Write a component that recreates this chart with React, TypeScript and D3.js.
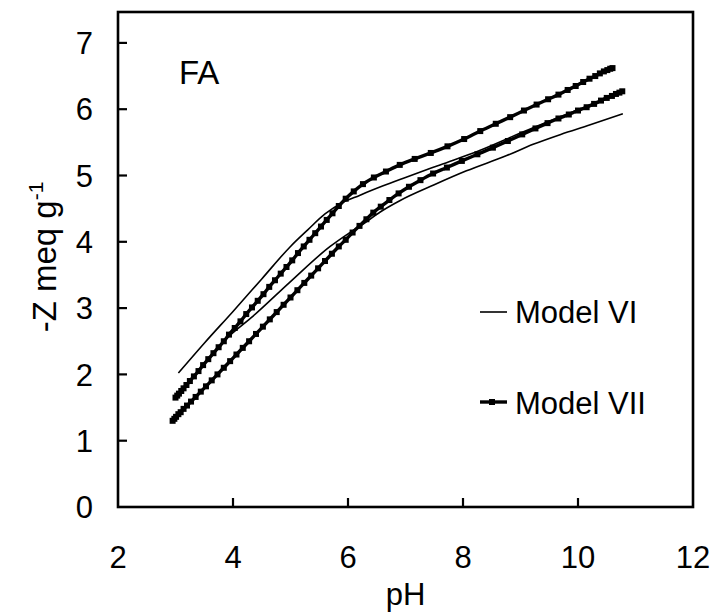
import React from 'react';
import * as d3 from 'd3';

// Model VII (thick line with markers), upper curve
const vii1PH = [3.0, 3.03, 3.06, 3.1, 3.14, 3.19, 3.25, 3.32, 3.4, 3.48, 3.57, 3.66, 3.75, 3.84, 3.93, 4.03, 4.13, 4.23, 4.33, 4.43, 4.53, 4.63, 4.73, 4.83, 4.93, 5.03, 5.13, 5.23, 5.33, 5.43, 5.53, 5.63, 5.73, 5.84, 5.96, 6.1, 6.26, 6.45, 6.66, 6.9, 7.16, 7.44, 7.73, 8.02, 8.3, 8.57, 8.82, 9.06, 9.28, 9.48, 9.66, 9.82, 9.96, 10.09, 10.2, 10.3, 10.38, 10.45, 10.51, 10.56, 10.6];
const vii1Z = [1.65, 1.68, 1.71, 1.75, 1.79, 1.84, 1.9, 1.97, 2.05, 2.14, 2.23, 2.32, 2.41, 2.5, 2.6, 2.7, 2.8, 2.91, 3.01, 3.11, 3.21, 3.32, 3.42, 3.52, 3.62, 3.72, 3.83, 3.93, 4.03, 4.13, 4.23, 4.33, 4.43, 4.54, 4.65, 4.76, 4.87, 4.97, 5.06, 5.16, 5.25, 5.34, 5.44, 5.55, 5.67, 5.78, 5.88, 5.98, 6.07, 6.15, 6.22, 6.29, 6.35, 6.41, 6.46, 6.5, 6.54, 6.57, 6.59, 6.61, 6.62];

// Model VII, lower curve
const vii2PH = [2.95, 2.98, 3.01, 3.05, 3.09, 3.14, 3.2, 3.27, 3.35, 3.44, 3.53, 3.63, 3.73, 3.84, 3.95, 4.06, 4.17, 4.28, 4.4, 4.52, 4.64, 4.76, 4.88, 5.0, 5.12, 5.24, 5.36, 5.48, 5.6, 5.72, 5.84, 5.96, 6.08, 6.2, 6.32, 6.44, 6.57, 6.72, 6.88, 7.06, 7.26, 7.48, 7.72, 7.98, 8.25, 8.52, 8.78, 9.03, 9.26, 9.47, 9.66, 9.84, 10.0, 10.15, 10.28, 10.4, 10.5, 10.59, 10.66, 10.72, 10.77];
const vii2Z = [1.3, 1.33, 1.36, 1.4, 1.43, 1.48, 1.53, 1.59, 1.66, 1.74, 1.82, 1.91, 2.0, 2.1, 2.2, 2.3, 2.4, 2.5, 2.61, 2.72, 2.83, 2.94, 3.05, 3.16, 3.27, 3.38, 3.49, 3.6, 3.71, 3.82, 3.93, 4.03, 4.14, 4.24, 4.34, 4.44, 4.53, 4.63, 4.73, 4.83, 4.93, 5.03, 5.12, 5.22, 5.32, 5.42, 5.52, 5.62, 5.71, 5.79, 5.86, 5.92, 5.98, 6.03, 6.08, 6.13, 6.17, 6.2, 6.23, 6.25, 6.27];

// Model VI (thin line), upper curve
const vi1PH = [3.05, 3.5, 4.0, 4.5, 5.0, 5.3, 5.6, 5.9, 6.2, 6.6, 7.0, 7.6, 8.3, 9.0, 9.7, 10.15, 10.5, 10.75];
const vi1Z = [2.02, 2.47, 2.95, 3.44, 3.93, 4.18, 4.42, 4.59, 4.7, 4.84, 4.97, 5.16, 5.38, 5.64, 5.89, 6.04, 6.16, 6.25];

// Model VI, lower curve
const vi2PH = [3.05, 3.5, 3.9, 4.35, 5.0, 5.69, 6.0, 6.27, 6.56, 6.9, 7.5, 8.06, 8.76, 9.22, 9.7, 10.2, 10.78];
const vi2Z = [1.7, 2.15, 2.55, 2.88, 3.4, 3.93, 4.12, 4.27, 4.45, 4.62, 4.86, 5.07, 5.3, 5.47, 5.62, 5.76, 5.93];

const xTicks = [2, 4, 6, 8, 10, 12];
const yTicks = [0, 1, 2, 3, 4, 5, 6, 7];

const W = 719;
const H = 612;
const left = 118, right = 693, top = 12, bottom = 507;
const font = '"Liberation Sans", Arial, sans-serif';
const fs = 31;

export default function App() {
  const x = d3.scaleLinear().domain([2, 12]).range([left, right]);
  const y = d3.scaleLinear().domain([0, 7]).range([bottom, bottom - 7 * 66.3]);

  const line = d3.line<[number, number]>()
    .x(d => x(d[0]))
    .y(d => y(d[1]))
    .curve(d3.curveMonotoneX);

  const zip = (a: number[], b: number[]) => a.map((v, i) => [v, b[i]] as [number, number]);
  const vi = [zip(vi1PH, vi1Z), zip(vi2PH, vi2Z)];
  const vii = [zip(vii1PH, vii1Z), zip(vii2PH, vii2Z)];

  return (
    <svg width={W} height={H} style={{ position: 'absolute', left: 0, top: 0, background: 'white' }}>
      {/* model VI thin lines */}
      {vi.map((d, i) => (
        <path key={'vi' + i} d={line(d) || ''} fill="none" stroke="#000" strokeWidth={1.6} />
      ))}
      {/* model VII thick lines with square markers */}
      {vii.map((d, i) => (
        <g key={'vii' + i}>
          <path d={line(d) || ''} fill="none" stroke="#000" strokeWidth={3.4} strokeLinecap="round" />
          {d.map((p, j) => (
            <rect key={j} x={x(p[0]) - 3} y={y(p[1]) - 3} width={6} height={6} fill="#000" />
          ))}
        </g>
      ))}

      {/* frame */}
      <rect x={left} y={top} width={right - left} height={bottom - top} fill="none" stroke="#000" strokeWidth={2.6} />
      {xTicks.slice(1, -1).map(t => (
        <line key={'xt' + t} x1={x(t)} x2={x(t)} y1={bottom} y2={bottom - 9} stroke="#000" strokeWidth={2.2} />
      ))}
      {yTicks.slice(1).map(t => (
        <line key={'yt' + t} x1={left} x2={left + 9} y1={y(t)} y2={y(t)} stroke="#000" strokeWidth={2.2} />
      ))}

      {/* tick labels */}
      {xTicks.map(t => (
        <text key={'xl' + t} x={x(t)} y={568} textAnchor="middle" fontFamily={font} fontSize={fs}>{t}</text>
      ))}
      {yTicks.map(t => (
        <text key={'yl' + t} x={93} y={y(t)} dy="0.36em" textAnchor="end" fontFamily={font} fontSize={fs}>{t}</text>
      ))}

      {/* axis titles */}
      <text x={(left + right) / 2} y={605} textAnchor="middle" fontFamily={font} fontSize={fs}>pH</text>
      <text transform="translate(56,257) rotate(-90)" textAnchor="middle" fontFamily={font} fontSize={33}>
        -Z meq g<tspan fontSize={21} dy={-13}>-1</tspan>
      </text>

      <text x={179} y={84} fontFamily={font} fontSize={33}>FA</text>

      {/* legend */}
      <line x1={480} x2={507} y1={312} y2={312} stroke="#000" strokeWidth={1.6} />
      <text x={515} y={323} fontFamily={font} fontSize={fs}>Model VI</text>
      <line x1={480} x2={507} y1={402} y2={402} stroke="#000" strokeWidth={3.4} />
      <rect x={489} y={399} width={6} height={6} fill="#000" />
      <text x={515} y={414} fontFamily={font} fontSize={fs}>Model VII</text>
    </svg>
  );
}
